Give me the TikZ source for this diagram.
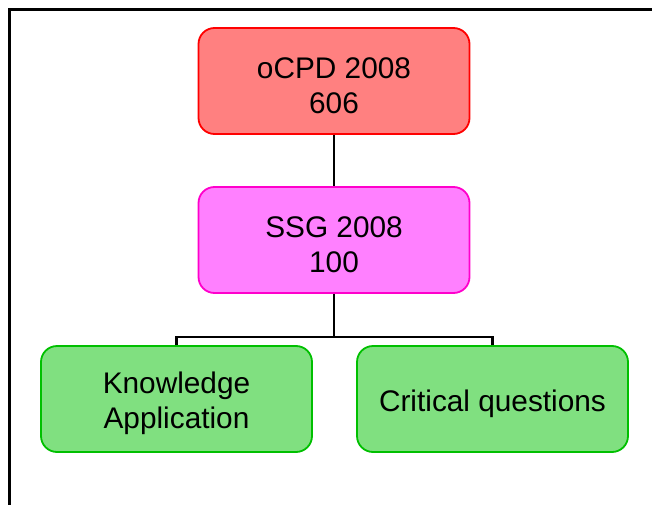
\documentclass[tikz,border=0pt]{standalone}
\usepackage{fontspec}
\setmainfont{Liberation Sans}
\definecolor{redfill}{HTML}{FF8080}
\definecolor{redline}{HTML}{FF0000}
\definecolor{pinkfill}{HTML}{FF80FF}
\definecolor{pinkline}{HTML}{FF00CC}
\definecolor{greenfill}{HTML}{80E080}
\definecolor{greenline}{HTML}{00C000}
\tikzset{
  box/.style={rectangle, rounded corners=16pt, minimum width=271pt, minimum height=106pt,
    line width=1.8pt, inner sep=0pt},
  boxtext/.style={align=center, inner sep=0pt, yshift=-4.5pt,
    font=\fontsize{29.8}{35}\selectfont},
  conn/.style={line width=2.4pt, black},
}
\begin{document}
\begin{tikzpicture}[x=1pt,y=-1pt]
\useasboundingbox (0,0) rectangle (652,505);
\draw[line width=3pt] (9,506) -- (9,10) -- (653,10);
\node[box, fill=redfill, draw=redline] (o) at (334,81) {};
\node[box, fill=pinkfill, draw=pinkline] (s) at (334,240) {};
\node[box, fill=greenfill, draw=greenline] (k) at (176.5,399) {};
\node[box, fill=greenfill, draw=greenline] (c) at (492.5,399) {};
\node[boxtext] (ot) at (o.center) {oCPD 2008\\606};
\node[boxtext] (st) at (s.center) {SSG 2008\\100};
\node[boxtext] (kt) at (k.center) {Knowledge\\Application};
\node[boxtext] (ct) at (c.center) {Critical questions};
\coordinate (j) at (334,337);
\draw[conn] (o.south) -- (s.north);
\draw[conn] (s.south) -- (j);
\draw[conn] (k.north) -- (k.north |- j) -- (c.north |- j) -- (c.north);
\end{tikzpicture}
\end{document}
